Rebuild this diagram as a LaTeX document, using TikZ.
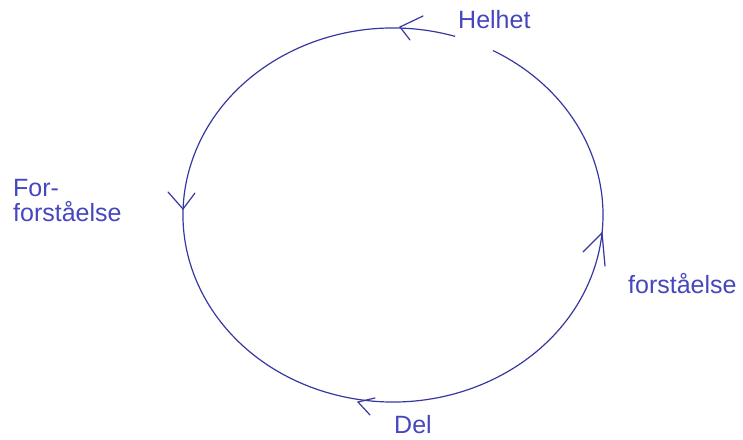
\documentclass[tikz,border=0pt]{standalone}
\usepackage{fontspec}
\setmainfont{Liberation Sans}
\definecolor{linec}{RGB}{55,55,160}
\definecolor{textc}{RGB}{70,70,190}
\begin{document}
\begin{tikzpicture}[x=1pt,y=1pt,
  lbl/.style={anchor=base west,inner sep=0pt,text=textc,font=\fontsize{25}{27}\selectfont},
  ring/.style={draw=linec,line width=1.2pt},
  barb/.style={draw=linec,line width=1.2pt,line cap=round}]
\useasboundingbox (0,0) rectangle (743,439);
\coordinate (c) at (393,224);
% circle with gap near "Helhet"
\draw[ring] ([shift={(72.8:210 and 187)}]c) arc[start angle=72.8,end angle=421.6,x radius=210,y radius=187];
% arrowheads (open barbs)
\coordinate (t) at (400,412);
\draw[barb] (423,423) -- (t) -- (410,399);
\coordinate (l) at (183,230);
\draw[barb] (168,247) -- (l) -- (195,246);
\coordinate (r) at (602,206);
\draw[barb] (583,187) -- (r) -- (605,173);
\coordinate (b) at (358,37);
\draw[barb] (375,41) -- (b) -- (370,24);
% labels
\node[lbl] (helhet) at (458,410) {Helhet};
\node[lbl] (for1) at (13,242) {For-};
\node[lbl] (for2) at (13,217) {forståelse};
\node[lbl] (forst) at (628,146) {forståelse};
\node[lbl] (del) at (394,6) {Del};
\end{tikzpicture}
\end{document}
